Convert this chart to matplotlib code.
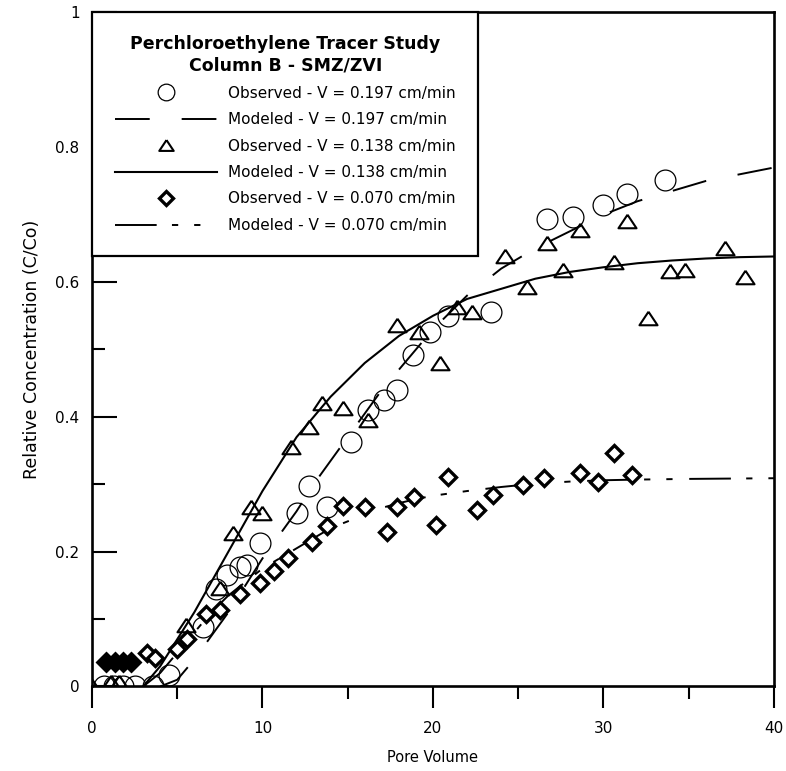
import numpy as np
import matplotlib
matplotlib.use("Agg")
import matplotlib.pyplot as plt
from matplotlib.ticker import MultipleLocator, FormatStrFormatter

# observed, V = 0.197 cm/min (circles)
obs197_x = [0.7, 1.3, 1.8, 2.5, 3.6, 4.5, 6.5, 7.3, 7.9, 8.7, 9.1, 9.85, 12.0, 12.7,
            13.8, 15.2, 16.2, 17.1, 17.9, 18.8, 19.8, 20.9, 23.4, 26.7, 28.2, 30.0,
            31.4, 33.6]
obs197_y = [0.0, 0.0, 0.0, 0.0, 0.0, 0.017, 0.088, 0.145, 0.165, 0.177, 0.18, 0.213,
            0.257, 0.297, 0.266, 0.363, 0.41, 0.425, 0.44, 0.492, 0.526, 0.549, 0.556,
            0.693, 0.696, 0.715, 0.730, 0.751]

# observed, V = 0.138 cm/min (triangles)
obs138_x = [0.0, 1.1, 1.6, 5.5, 7.5, 8.3, 9.3, 10.0, 11.7, 12.7, 13.5, 14.7, 16.2,
            17.9, 19.2, 20.4, 21.4, 22.3, 24.2, 25.5, 26.7, 27.6, 28.6, 30.6, 31.4,
            32.6, 33.9, 34.8, 37.1, 38.3]
obs138_y = [0.0, 0.007, 0.007, 0.091, 0.146, 0.228, 0.267, 0.257, 0.356, 0.385, 0.42,
            0.413, 0.396, 0.537, 0.526, 0.48, 0.563, 0.555, 0.638, 0.592, 0.658, 0.618,
            0.678, 0.630, 0.690, 0.547, 0.616, 0.618, 0.651, 0.607]

# observed, V = 0.070 cm/min (diamonds)
obs070_x = [0.8, 1.35, 1.8, 2.3, 3.2, 3.7, 5.0, 5.6, 6.7, 7.5, 8.7, 9.85, 10.7, 11.5,
            12.9, 13.8, 14.7, 16.0, 17.3, 17.9, 18.9, 20.2, 20.9, 22.6, 23.5, 25.3,
            26.5, 28.6, 29.7, 30.6, 31.7]
obs070_y = [0.036, 0.036, 0.036, 0.036, 0.05, 0.043, 0.055, 0.07, 0.108, 0.114, 0.137,
            0.154, 0.171, 0.19, 0.214, 0.238, 0.268, 0.267, 0.229, 0.266, 0.281, 0.24,
            0.311, 0.262, 0.284, 0.299, 0.309, 0.317, 0.304, 0.347, 0.314]

# modeled curves
mod197_x = [4, 5, 6, 7, 8, 9, 10, 11, 12, 13, 14, 15, 16, 17, 18, 19, 20, 21, 22, 24,
            26, 28, 30, 32, 34, 36, 38, 40]
mod197_y = [0.0, 0.01, 0.04, 0.075, 0.11, 0.15, 0.19, 0.225, 0.26, 0.30, 0.335, 0.37,
            0.405, 0.44, 0.47, 0.50, 0.53, 0.555, 0.58, 0.62, 0.65, 0.675, 0.70, 0.72,
            0.735, 0.75, 0.76, 0.77]

mod138_x = [3, 4, 5, 6, 7, 8, 9, 10, 11, 12, 13, 14, 15, 16, 17, 18, 19, 20, 22, 24,
            26, 28, 30, 32, 34, 36, 38, 40]
mod138_y = [0.0, 0.03, 0.07, 0.11, 0.155, 0.2, 0.245, 0.29, 0.33, 0.37, 0.40, 0.43,
            0.455, 0.48, 0.50, 0.52, 0.535, 0.55, 0.575, 0.59, 0.605, 0.615, 0.622,
            0.628, 0.632, 0.635, 0.637, 0.638]

mod070_x = [3, 4, 5, 6, 7, 8, 9, 10, 11, 12, 13, 14, 15, 16, 17, 18, 19, 20, 22, 24,
            26, 28, 30, 32, 35, 40]
mod070_y = [0.0, 0.02, 0.05, 0.08, 0.11, 0.135, 0.155, 0.175, 0.19, 0.205, 0.22, 0.235,
            0.245, 0.255, 0.265, 0.272, 0.278, 0.283, 0.29, 0.296, 0.301, 0.304, 0.306,
            0.307, 0.308, 0.309]

labels = ["Observed - V = 0.197 cm/min", "Modeled - V = 0.197 cm/min",
          "Observed - V = 0.138 cm/min", "Modeled - V = 0.138 cm/min",
          "Observed - V = 0.070 cm/min", "Modeled - V = 0.070 cm/min"]

plt.rcParams["font.family"] = ["DejaVu Sans"]
plt.rcParams["lines.scale_dashes"] = False

fig = plt.figure(figsize=(7.86, 7.71), dpi=100)
ax = fig.add_axes([0.117, 0.1096, 0.8677, 0.8742])

tri = [(0, 0.75), (-1, -0.75), (1, -0.75), (0, 0.75)]

h1, = ax.plot(mod197_x, mod197_y, color="black", lw=1.4, ls=(0, (25, 23)))
h2, = ax.plot(mod138_x, mod138_y, color="black", lw=1.5, ls="-")
h3, = ax.plot(mod070_x, mod070_y, color="black", lw=1.4,
              ls=(0, (30, 11, 4.5, 11.5, 4.5, 12)))

o1, = ax.plot(obs197_x, obs197_y, ls="none", marker="o", ms=15, mfc="none",
              mec="black", mew=0.9)
o2, = ax.plot(obs138_x, obs138_y, ls="none", marker=tri, ms=13, mfc="none",
              mec="black", mew=1.5)
x070 = np.array(obs070_x)
y070 = np.array(obs070_y)
o3, = ax.plot(x070, y070, ls="none", marker="D", ms=8.3, mfc="white",
              mec="black", mew=2.4)
filled = x070 < 2.5
ax.plot(x070[filled], y070[filled], ls="none", marker="D", ms=9.5, mfc="black",
        mec="black", mew=2.0)

ax.set_xlim(0, 40)
ax.set_ylim(0, 1)
ax.xaxis.set_major_locator(MultipleLocator(10))
ax.xaxis.set_minor_locator(MultipleLocator(5))
ax.yaxis.set_major_locator(MultipleLocator(0.2))
ax.yaxis.set_minor_locator(MultipleLocator(0.1))
ax.xaxis.set_major_formatter(FormatStrFormatter("%g"))
ax.yaxis.set_major_formatter(FormatStrFormatter("%g"))
ax.tick_params(axis="x", which="major", direction="out", length=16, width=1.5,
               pad=9, labelsize=11)
ax.tick_params(axis="x", which="minor", direction="out", length=9, width=1.5)
ax.tick_params(axis="y", which="major", direction="in", length=18, width=1.5,
               pad=9, labelsize=11)
ax.tick_params(axis="y", which="minor", direction="in", length=9, width=1.5)
for sp in ax.spines.values():
    sp.set_linewidth(1.9)

ax.set_xlabel("Pore Volume", fontsize=10.5, labelpad=10)
ax.set_ylabel("Relative Concentration (C/Co)", fontsize=12.5, labelpad=10)

leg = ax.legend([o1, h1, o2, h2, o3, h3], labels, loc="upper left",
                bbox_to_anchor=(0, 1), borderaxespad=0, fontsize=11,
                title="Perchloroethylene Tracer Study\nColumn B - SMZ/ZVI",
                title_fontproperties={"weight": "bold", "size": 12.5},
                handlelength=6.7, handletextpad=0.7, borderpad=1.5,
                labelspacing=0.75, markerscale=0.8, fancybox=False,
                edgecolor="black", framealpha=1)
leg.get_frame().set_linewidth(1.6)
leg.get_title().set_multialignment("center")

fig.savefig("out.png", dpi=100)
